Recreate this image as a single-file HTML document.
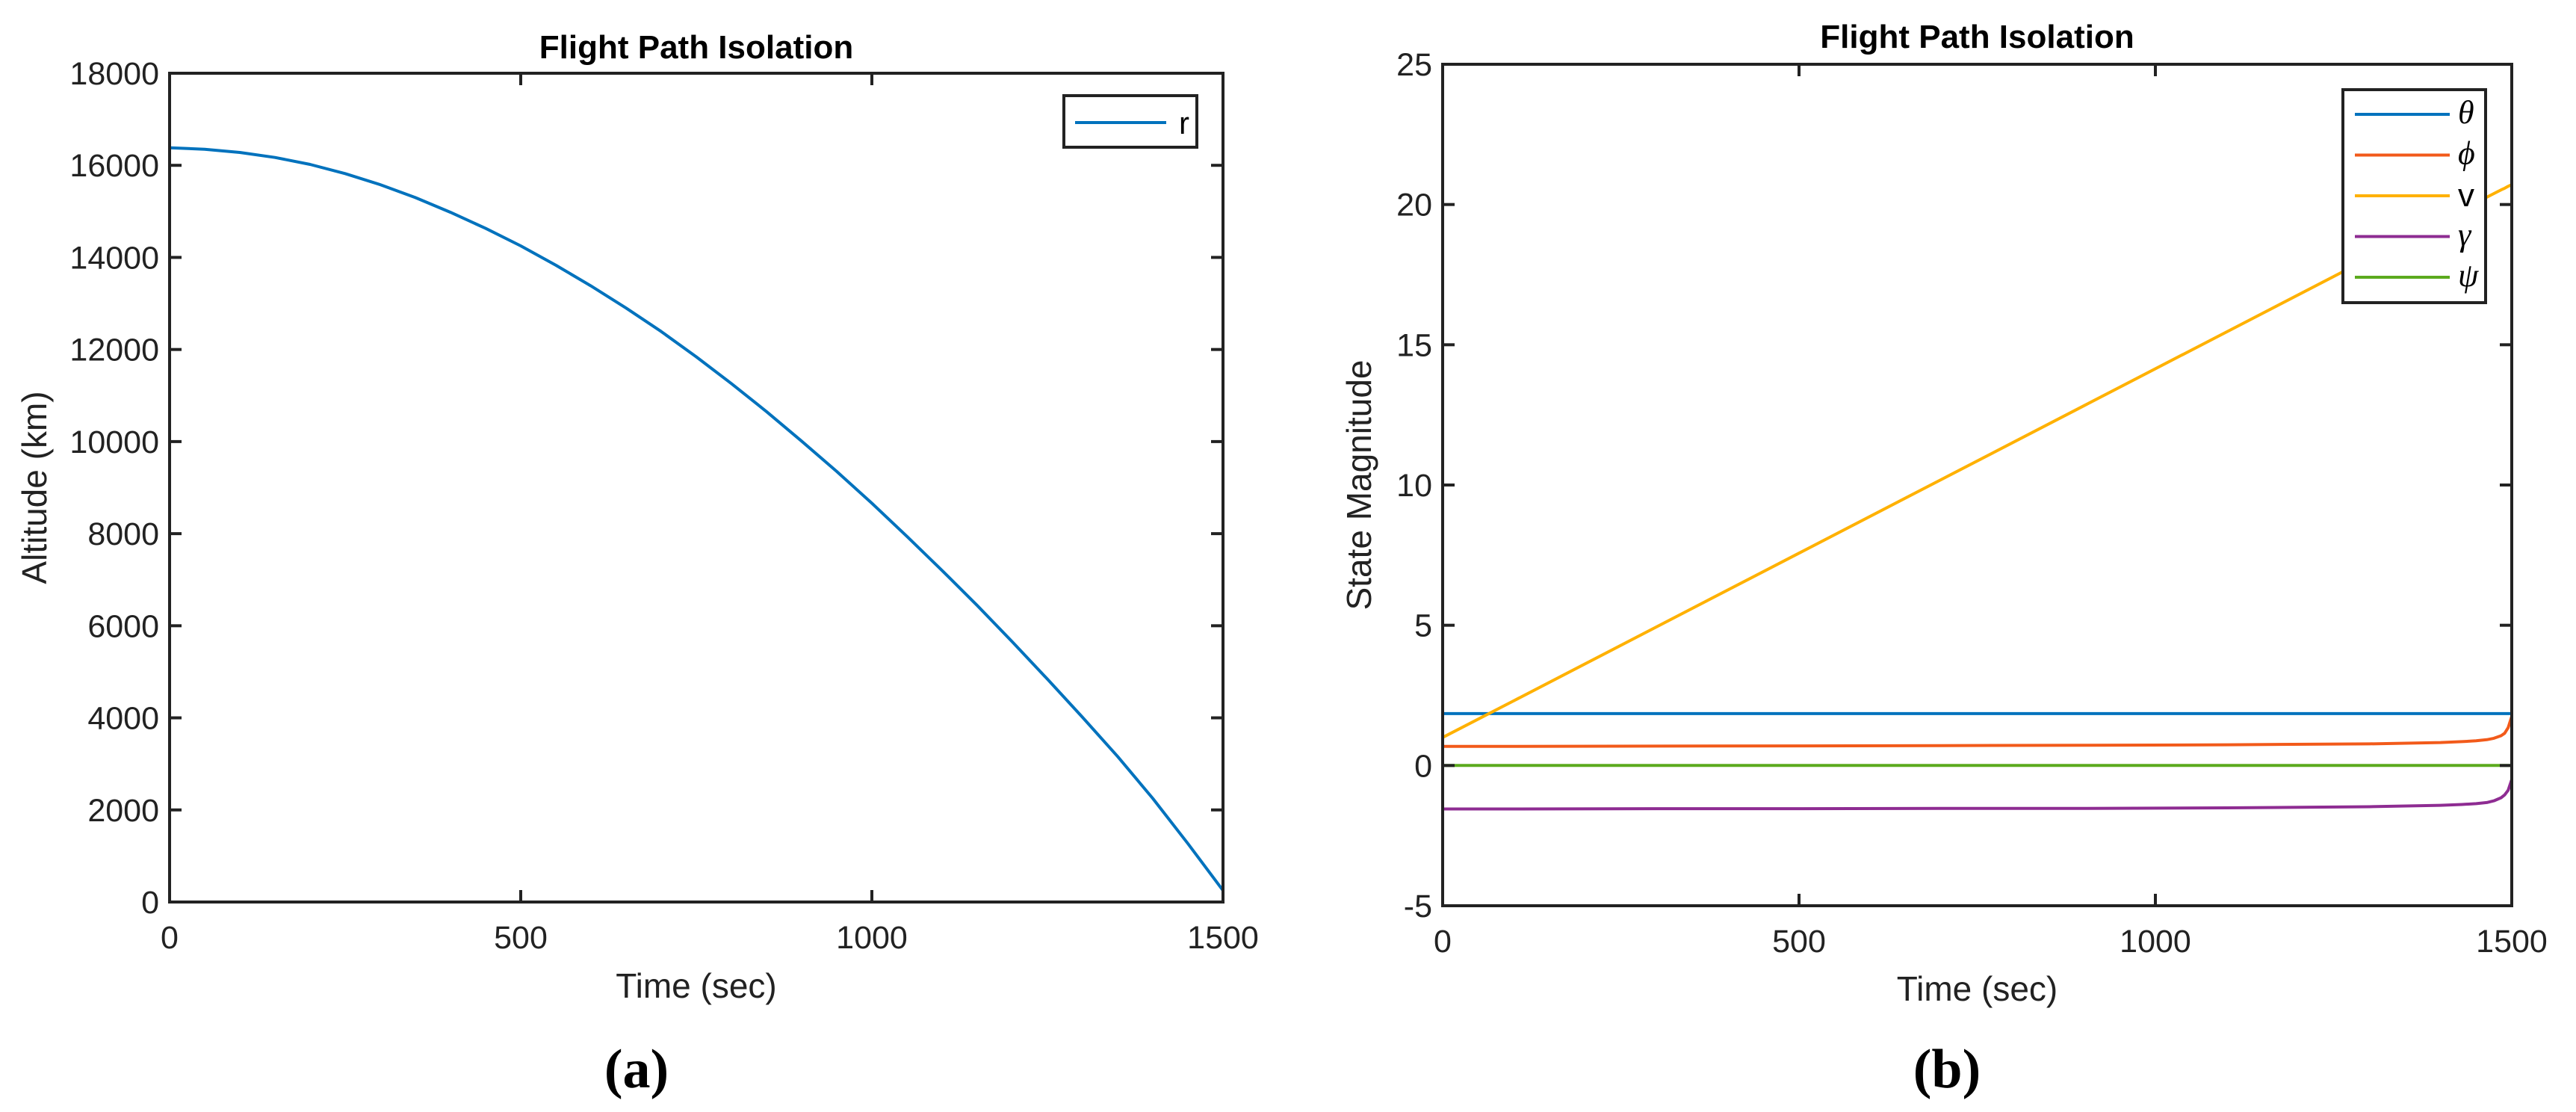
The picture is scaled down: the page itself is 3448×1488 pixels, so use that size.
<!DOCTYPE html>
<html><head><meta charset="utf-8"><style>
html,body{margin:0;padding:0;background:#fff;}
svg{display:block;font-family:"Liberation Sans",Arial,sans-serif;}
</style></head><body>
<svg id="fig" width="3448" height="1488" viewBox="0 0 3448 1488"></svg>
<script>
// Panel (a) data
const timeA = [0,50,100,150,200,250,300,350,400,450,500,550,600,650,700,750,800,850,900,950,1000,1050,1100,1150,1200,1250,1300,1350,1400,1450,1500];
const altitudeR = [16380,16350,16280,16170,16020,15820,15580,15300,14980,14630,14250,13830,13380,12900,12390,11840,11260,10650,10010,9350,8660,7940,7200,6440,5650,4840,4010,3160,2250,1270,250];
const yTicksA = [0,2000,4000,6000,8000,10000,12000,14000,16000,18000];
const xTicks = [0,500,1000,1500];
// Panel (b) data
const timeB = [0,100,300,500,700,900,1100,1300,1400,1430,1450,1465,1475,1485,1490,1495,1500];
const thetaS = [1.85,1.85,1.85,1.85,1.85,1.85,1.85,1.85,1.85,1.85,1.85,1.85,1.85,1.85,1.85,1.85,1.85];
const phiS = [0.68,0.68,0.69,0.70,0.71,0.72,0.74,0.77,0.82,0.85,0.88,0.92,0.97,1.06,1.15,1.35,1.75];
const vS = [1.0,2.31,4.94,7.57,10.2,12.83,15.46,18.09,19.4,19.8,20.06,20.26,20.39,20.52,20.58,20.65,20.71];
const gammaS = [-1.55,-1.55,-1.54,-1.54,-1.53,-1.53,-1.51,-1.47,-1.42,-1.39,-1.36,-1.32,-1.26,-1.15,-1.05,-0.88,-0.5];
const psiS = [0,0,0,0,0,0,0,0,0,0,0,0,0,0,0,0,0];
const yTicksB = [-5,0,5,10,15,20,25];
const seriesNames = ['theta','phi','v','gamma','psi'];
const seriesLabels = ['θ','ϕ','v','γ','ψ'];
const seriesColors = ['#0072BD','#F25A1A','#FFB100','#8E2C92','#5BAA1E'];

const NS='http://www.w3.org/2000/svg';
const svg=document.getElementById('fig');
function mk(tag,attrs,parent){const e=document.createElementNS(NS,tag);for(const k in attrs)e.setAttribute(k,attrs[k]);(parent||svg).appendChild(e);return e;}

function panel(cfg){
  const g=mk('g',{});
  
  
  const L=cfg.L,R=cfg.R,T=cfg.T,B=cfg.B;
  const sx=v=>L+(v-cfg.xmin)/(cfg.xmax-cfg.xmin)*(R-L);
  const sy=v=>B-(v-cfg.ymin)/(cfg.ymax-cfg.ymin)*(B-T);
  cfg.series.forEach(s=>{
    const pts=s.x.map((t,i)=>sx(t).toFixed(1)+','+sy(s.y[i]).toFixed(1)).join(' ');
    const p=mk('polyline',{points:pts,fill:'none',stroke:s.color,'stroke-width':4,'stroke-linejoin':'round'},g);
    
    
  });
  const box=mk('rect',{x:L,y:T,width:R-L,height:B-T,fill:'none',stroke:'#222','stroke-width':4},g);
  
  
  cfg.xticks.forEach(v=>{
    const x=sx(v);
    mk('line',{x1:x,y1:B,x2:x,y2:B-16,stroke:'#222','stroke-width':4},g);
    mk('line',{x1:x,y1:T,x2:x,y2:T+16,stroke:'#222','stroke-width':4},g);
    const t=mk('text',{x:x,y:B+62,'font-size':43,'text-anchor':'middle',fill:'#222'},g);
    t.textContent=v;
    
    
  });
  cfg.yticks.forEach(v=>{
    const y=sy(v);
    mk('line',{x1:L,y1:y,x2:L+16,y2:y,stroke:'#222','stroke-width':4},g);
    mk('line',{x1:R,y1:y,x2:R-16,y2:y,stroke:'#222','stroke-width':4},g);
    const t=mk('text',{x:L-14,y:y+15,'font-size':43,'text-anchor':'end',fill:'#222'},g);
    t.textContent=v;
    
    
  });
  const ti=mk('text',{x:(L+R)/2,y:cfg.titleY,'font-size':44,'font-weight':'bold','text-anchor':'middle',fill:'#000'},g);
  ti.textContent='Flight Path Isolation';
  
  
  const xl=mk('text',{x:(L+R)/2,y:cfg.xlabY,'font-size':46,'text-anchor':'middle',fill:'#222'},g);
  xl.textContent='Time (sec)';
  
  
  const yl=mk('text',{x:0,y:0,'font-size':46,'text-anchor':'middle',fill:'#222',transform:`translate(${cfg.ylabX},${(T+B)/2}) rotate(-90)`},g);
  yl.textContent=cfg.ylabel;
  
  
  const pl=mk('text',{x:cfg.capX,y:1455,'font-size':74,'font-weight':'bold','text-anchor':'middle',fill:'#000','font-family':'"Liberation Serif",serif'},g);
  pl.textContent=cfg.cap;
  
  
  return g;
}

const gA=panel({name:'panel-a',L:227,R:1637,T:98,B:1207,xmin:0,xmax:1500,ymin:0,ymax:18000,
  xticks:xTicks,yticks:yTicksA,titleY:78,xlabY:1335,ylabX:62,ylabel:'Altitude (km)',cap:'(a)',capX:852,
  series:[{name:'r',x:timeA,y:altitudeR,color:'#0072BD'}]});
const lgA=mk('g',{},gA);


mk('rect',{x:1424,y:128,width:178,height:69,fill:'#fff',stroke:'#222','stroke-width':4},lgA);
mk('line',{x1:1439,y1:164,x2:1561,y2:164,stroke:'#0072BD','stroke-width':4},lgA);
const ra=mk('text',{x:1578,y:179,'font-size':42,fill:'#000'},lgA);ra.textContent='r';



const seriesB=[thetaS,phiS,vS,gammaS,psiS];
const gB=panel({name:'panel-b',L:1931,R:3362,T:86,B:1212,xmin:0,xmax:1500,ymin:-5,ymax:25,
  xticks:xTicks,yticks:yTicksB,titleY:64,xlabY:1339,ylabX:1835,ylabel:'State Magnitude',cap:'(b)',capX:2606,
  series:seriesB.map((y,i)=>({name:seriesNames[i],x:timeB,y:y,color:seriesColors[i]}))});
const lgB=mk('g',{},gB);


mk('rect',{x:3136,y:120,width:191,height:285,fill:'#fff',stroke:'#222','stroke-width':4},lgB);
seriesLabels.forEach((lab,i)=>{
  const y=153+i*54.5;
  mk('line',{x1:3152,y1:y,x2:3279,y2:y,stroke:seriesColors[i],'stroke-width':4},lgB);
  const t=mk('text',{x:3290,y:y+(lab==='v'?14:12),'font-size':44,'font-style':lab==='v'?'normal':'italic',fill:'#000','font-family':lab==='v'?'"Liberation Sans",sans-serif':'"Liberation Serif","DejaVu Serif",serif'},lgB);
  t.textContent=lab;
  
  
});
</script>
</body></html>
